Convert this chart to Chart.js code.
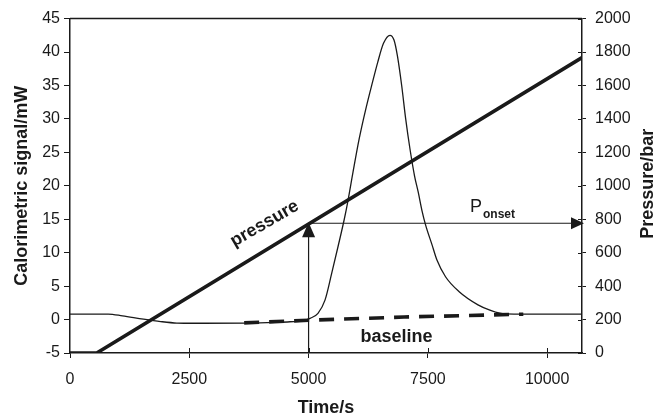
<!DOCTYPE html>
<html>
<head>
<meta charset="utf-8">
<script src="https://cdn.jsdelivr.net/npm/chart.js@4.4.1/dist/chart.umd.min.js"></script>
<style>
  html, body { margin: 0; padding: 0; background: #fff; }
  #wrap { width: 656px; height: 416px; position: relative; }
</style>
</head>
<body>
<div id="wrap"><canvas id="c" width="656" height="416"></canvas></div>
<script>
// ---- Data ----
const X_TICKS = [0, 2500, 5000, 7500, 10000];
const X_MAX = 10730;
const Y_LEFT_MIN = -5, Y_LEFT_MAX = 45, Y_LEFT_STEP = 5;
const Y_RIGHT_MIN = 0, Y_RIGHT_MAX = 2000, Y_RIGHT_STEP = 200;

// calorimetric signal (time s, mW)
const signalTime = [0, 800, 1100, 1540, 1900, 2240, 2600, 3700, 4300, 4610, 4900, 5030, 5197, 5344, 5484, 5620, 5748, 5826, 5930, 6060, 6200, 6340, 6450, 6570, 6706, 6790, 6860, 6951, 7035, 7125, 7220, 7299, 7376, 7450, 7586, 7690, 7870, 8150, 8550, 8800, 9011, 9300, 10730];
const signalMW   = [0.82, 0.82, 0.55, 0.05, -0.3, -0.52, -0.55, -0.52, -0.42, -0.33, -0.15, 0.18, 0.93, 2.9, 6.9, 11, 15, 17.8, 22, 27, 31.5, 35.5, 38.5, 41.3, 42.5, 41.8, 39.5, 35, 30, 25.5, 21.5, 19, 16.3, 14.2, 11.2, 8.9, 6.4, 4.2, 2.2, 1.4, 0.95, 0.82, 0.82];

// pressure (time s, bar)
const pressureTime = [0, 560, 10730];
const pressureBar  = [0, 0, 1767];

// baseline (time s, mW)
const baselineTime = [3650, 5000, 7000, 9500];
const baselineMW   = [-0.5, -0.1, 0.38, 0.8];

// onset marker
const onsetTime = 5000;
const onsetPressure = 776;

// annotation anchors (data coordinates)
const pressureLabel = { t: 4130, mW: 13.7, text: 'pressure' };
const baselineLabel = { t: 6842, mW: -3.35, text: 'baseline' };
const ponsetLabel   = { t: 8382, mW: 16.1, main: 'P', sub: 'onset' };

const FONT = "'Liberation Sans', Arial, Helvetica, sans-serif";
const INK = '#1a1a1a';

const toXY = (xs, ys) => xs.map((x, i) => ({ x: x, y: ys[i] }));
const plain = v => String(v);

const annotations = {
  id: 'annotations',
  afterDatasetsDraw(chart) {
    const ctx = chart.ctx;
    const xs = chart.scales.x, yl = chart.scales.y, yr = chart.scales.y1;
    const area = chart.chartArea;
    ctx.save();
    ctx.strokeStyle = INK;
    ctx.fillStyle = INK;

    // top border of the frame
    ctx.lineWidth = 1.5;
    ctx.beginPath();
    ctx.moveTo(area.left, area.top);
    ctx.lineTo(area.right, area.top);
    ctx.stroke();

    // inward halves of x and right ticks
    ctx.lineWidth = 1;
    X_TICKS.forEach(v => {
      if (v === 0) return;
      const px = Math.round(xs.getPixelForValue(v)) + 0.5;
      ctx.beginPath();
      ctx.moveTo(px, area.bottom);
      ctx.lineTo(px, area.bottom - 5);
      ctx.stroke();
    });
    yr.ticks.forEach(t => {
      const py = Math.round(yr.getPixelForValue(t.value)) + 0.5;
      ctx.beginPath();
      ctx.moveTo(area.right, py);
      ctx.lineTo(area.right - 4, py);
      ctx.stroke();
    });

    // arrowheads
    const vMeta = chart.getDatasetMeta(3);
    const hMeta = chart.getDatasetMeta(4);
    const vTip = vMeta.data[1];
    const hTip = hMeta.data[1];
    ctx.beginPath();
    ctx.moveTo(vTip.x, vTip.y - 1);
    ctx.lineTo(vTip.x - 6.5, vTip.y + 14);
    ctx.lineTo(vTip.x + 6.5, vTip.y + 14);
    ctx.closePath();
    ctx.fill();
    ctx.beginPath();
    ctx.moveTo(hTip.x + 2, hTip.y);
    ctx.lineTo(hTip.x - 11, hTip.y - 6);
    ctx.lineTo(hTip.x - 11, hTip.y + 6);
    ctx.closePath();
    ctx.fill();

    // "pressure" label
    ctx.save();
    ctx.translate(xs.getPixelForValue(pressureLabel.t), yl.getPixelForValue(pressureLabel.mW));
    ctx.rotate(-30 * Math.PI / 180);
    ctx.font = 'bold 18px ' + FONT;
    ctx.textAlign = 'center';
    ctx.textBaseline = 'alphabetic';
    ctx.fillText(pressureLabel.text, 0, 0);
    ctx.restore();

    // "baseline" label
    ctx.font = 'bold 18px ' + FONT;
    ctx.textAlign = 'center';
    ctx.textBaseline = 'alphabetic';
    ctx.fillText(baselineLabel.text, xs.getPixelForValue(baselineLabel.t), yl.getPixelForValue(baselineLabel.mW));

    // P onset label
    const px = xs.getPixelForValue(ponsetLabel.t);
    const py = yl.getPixelForValue(ponsetLabel.mW);
    ctx.textAlign = 'left';
    ctx.font = '18px ' + FONT;
    ctx.fillText(ponsetLabel.main, px, py);
    const w = ctx.measureText(ponsetLabel.main).width;
    ctx.font = 'bold 12px ' + FONT;
    ctx.fillText(ponsetLabel.sub, px + w + 1, py + 6);

    // right axis title (reads bottom to top)
    ctx.save();
    ctx.translate(area.right + 66, (area.top + area.bottom) / 2 - 2);
    ctx.rotate(-Math.PI / 2);
    ctx.font = 'bold 18px ' + FONT;
    ctx.textAlign = 'center';
    ctx.textBaseline = 'middle';
    ctx.fillText('Pressure/bar', 0, 0);
    ctx.restore();

    ctx.restore();
  }
};

const tickFont = { family: FONT, size: 16 };
const titleFont = { family: FONT, size: 18, weight: 'bold', lineHeight: 1.2 };

new Chart(document.getElementById('c'), {
  type: 'line',
  data: {
    datasets: [
      {
        label: 'Calorimetric signal',
        data: toXY(signalTime, signalMW),
        yAxisID: 'y',
        borderColor: INK, borderWidth: 1.3,
        pointRadius: 0, fill: false,
        cubicInterpolationMode: 'monotone'
      },
      {
        label: 'pressure',
        data: toXY(pressureTime, pressureBar),
        yAxisID: 'y1',
        borderColor: INK, borderWidth: 3.6,
        pointRadius: 0, fill: false, tension: 0
      },
      {
        label: 'baseline',
        data: toXY(baselineTime, baselineMW),
        yAxisID: 'y',
        borderColor: INK, borderWidth: 3.6,
        borderDash: [15, 10],
        pointRadius: 0, fill: false, tension: 0
      },
      {
        label: 'onset vertical',
        data: [{ x: onsetTime, y: Y_RIGHT_MIN }, { x: onsetTime, y: onsetPressure }],
        yAxisID: 'y1',
        borderColor: INK, borderWidth: 1.2,
        pointRadius: 0, fill: false, tension: 0
      },
      {
        label: 'onset horizontal',
        data: [{ x: onsetTime, y: onsetPressure }, { x: X_MAX, y: onsetPressure }],
        yAxisID: 'y1',
        borderColor: INK, borderWidth: 1.2,
        pointRadius: 0, fill: false, tension: 0
      }
    ]
  },
  options: {
    responsive: false,
    animation: false,
    events: [],
    layout: { padding: { top: 18, left: 0, right: 0, bottom: 0 } },
    plugins: { legend: { display: false }, tooltip: { enabled: false } },
    scales: {
      x: {
        type: 'linear',
        min: 0, max: X_MAX,
        afterBuildTicks: s => { s.ticks = X_TICKS.map(v => ({ value: v })); },
        ticks: { font: tickFont, color: INK, padding: 12, maxRotation: 0, callback: plain },
        grid: { drawOnChartArea: false, tickLength: 5, color: INK },
        border: { color: INK, width: 1.5 },
        title: { display: true, text: 'Time/s', font: { family: FONT, size: 18, weight: 'bold', lineHeight: 1 }, color: INK, padding: { top: 0, bottom: -1 } },
        afterFit: s => { s.height = 63; }
      },
      y: {
        type: 'linear', position: 'left',
        min: Y_LEFT_MIN, max: Y_LEFT_MAX,
        ticks: { stepSize: Y_LEFT_STEP, font: tickFont, color: INK, padding: 4, callback: plain },
        grid: { drawOnChartArea: false, tickLength: 6, color: INK },
        border: { color: INK, width: 1.5 },
        title: { display: true, text: 'Calorimetric signal/mW', font: titleFont, color: INK, padding: { top: 11, bottom: 0 } },
        afterFit: s => { s.width = 70; }
      },
      y1: {
        type: 'linear', position: 'right',
        min: Y_RIGHT_MIN, max: Y_RIGHT_MAX,
        ticks: { stepSize: Y_RIGHT_STEP, font: tickFont, color: INK, padding: 9, callback: plain },
        grid: { drawOnChartArea: false, tickLength: 4, color: INK },
        border: { color: INK, width: 1.5 },
        afterFit: s => { s.width = 74; }
      }
    }
  },
  plugins: [annotations]
});
</script>
</body>
</html>
